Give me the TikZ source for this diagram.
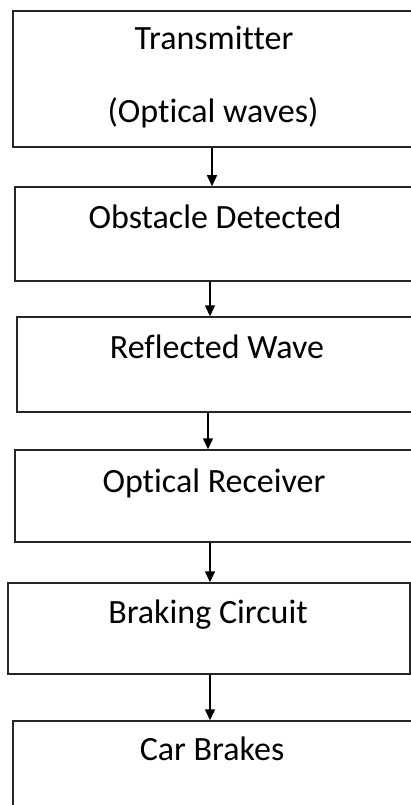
\documentclass[tikz,border=0pt]{standalone}
\usepackage{fontspec}
\setmainfont[Ligatures=NoCommon]{Carlito}
\usetikzlibrary{arrows.meta}

\tikzset{
  stage/.style={draw=black!85, line width=1.5pt, rectangle, inner sep=0pt, minimum width=420pt},
  caption/.style={anchor=base, inner sep=0pt, font=\fontsize{34}{40}\selectfont},
  flow/.style={line width=1.5pt, -{Triangle[length=11pt,width=10pt]}}
}

\begin{document}
\begin{tikzpicture}[x=1pt, y=-1pt]
  \useasboundingbox (0,0) rectangle (411,805);
  \begin{scope}
  \clip (0,0) rectangle (411,805);
  % boxes running off the right edge
  \node[stage, minimum height=136pt, anchor=west] (tx) at (12,79) {};
  \node[stage, minimum height=94pt, anchor=west] (obs) at (14,234) {};
  \node[stage, minimum height=95pt, anchor=west] (refl) at (16,364.5) {};
  \node[stage, minimum height=92pt, anchor=west] (rx) at (14,496) {};
  \node[stage, minimum height=91pt, minimum width=402pt] (brk) at (209,628.5) {};
  \node[stage, minimum height=100pt, anchor=west] (car) at (12,771) {};
  \end{scope}
  \node[caption] (txa) at (214,50) {Transmitter};
  \node[caption] (txb) at (213,123) {(Optical waves)};
  \node[caption] (obst) at (215,228) {Obstacle Detected};
  \node[caption] (reflt) at (217,358) {Reflected Wave};
  \node[caption] (rxt) at (214,492) {Optical Receiver};
  \node[caption] (brkt) at (208,623) {Braking Circuit};
  \node[caption] (cart) at (212,760) {Car Brakes};
  \draw[flow] (212,0 |- tx.south) -- (212,0 |- obs.north);
  \draw[flow] (210,0 |- obs.south) -- (210,0 |- refl.north);
  \draw[flow] (208,0 |- refl.south) -- (208,0 |- rx.north);
  \draw[flow] (210,0 |- rx.south) -- (210,0 |- brk.north);
  \draw[flow] (210,0 |- brk.south) -- (210,0 |- car.north);
\end{tikzpicture}
\end{document}
